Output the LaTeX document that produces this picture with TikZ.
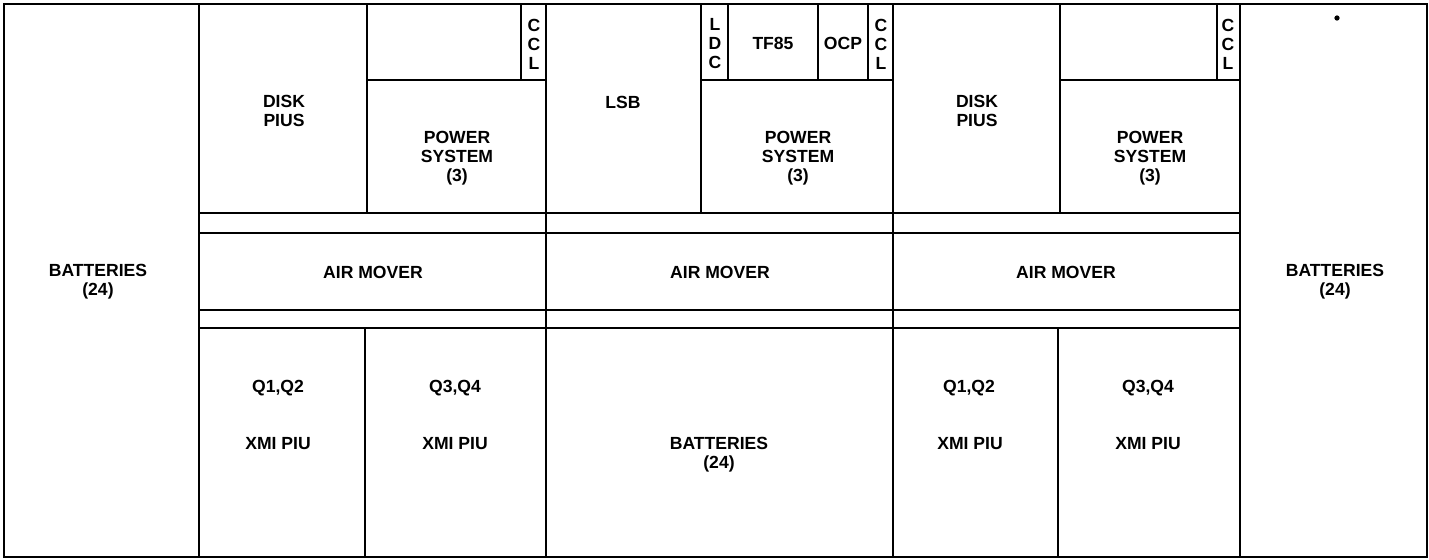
\documentclass[tikz,border=0pt]{standalone}
\usepackage{fontspec}
\setmainfont{Liberation Sans}

\tikzset{
  wall/.style={line width=1.4pt},
  part/.style={line width=1pt},
  lbl/.style={font=\bfseries\fontsize{10}{10.8}\selectfont,align=center,inner sep=0pt},
}

\begin{document}
\begin{tikzpicture}[x=0.02cm,y=-0.02cm,line cap=rect]
\useasboundingbox (0,0) rectangle (1429,559);
% frame, cabinet walls and air mover strips
\draw[wall] (4,4) rectangle (1427,557);
\foreach \x in {199,546,893,1240} \draw[wall] (\x,4)--(\x,557);
\foreach \y in {213,233,310,328} \draw[wall] (199,\y)--(1240,\y);
% upper boxes
\draw[part] (367,4)--(367,213) (367,80)--(546,80) (521,4)--(521,80);
\draw[part] (701,4)--(701,213) (701,80)--(893,80);
\foreach \x in {728,818,868} \draw[part] (\x,4)--(\x,80);
\draw[part] (1060,4)--(1060,213) (1060,80)--(1240,80) (1217,4)--(1217,80);
% lower boxes
\draw[part] (365,328)--(365,557) (1058,328)--(1058,557);
\fill (1337,18) circle (1.5pt);
% labels
\node[lbl] (batl) at (98,282) {BATTERIES\\(24)};
\node[lbl] (batr) at (1335,282) {BATTERIES\\(24)};
\node[lbl] (batm) at (719,455) {BATTERIES\\(24)};
\node[lbl] (diska) at (284,111) {DISK\\PIUS};
\node[lbl] (diskc) at (977,111) {DISK\\PIUS};
\node[lbl] (lsb) at (623,102) {LSB};
\node[lbl] (pwra) at (457,158) {POWER\\SYSTEM\\(3)};
\node[lbl] (pwrb) at (798,158) {POWER\\SYSTEM\\(3)};
\node[lbl] (pwrc) at (1150,158) {POWER\\SYSTEM\\(3)};
\node[lbl] (ccla) at (534,44) {C\\C\\L};
\node[lbl] (cclb) at (881,44) {C\\C\\L};
\node[lbl] (cclc) at (1228,44) {C\\C\\L};
\node[lbl] (ldc) at (715,44) {L\\D\\C};
\node[lbl] (tf) at (773,43) {TF85};
\node[lbl] (ocp) at (843,43) {OCP};
\node[lbl] (aira) at (373,272) {AIR MOVER};
\node[lbl] (airb) at (720,272) {AIR MOVER};
\node[lbl] (airc) at (1066,272) {AIR MOVER};
\node[lbl] (qa) at (278,388) {Q1,Q2};
\node[lbl] (xa) at (278,444) {XMI PIU};
\node[lbl] (qb) at (455,388) {Q3,Q4};
\node[lbl] (xb) at (455,444) {XMI PIU};
\node[lbl] (qc) at (969,388) {Q1,Q2};
\node[lbl] (xc) at (970,444) {XMI PIU};
\node[lbl] (qd) at (1148,388) {Q3,Q4};
\node[lbl] (xd) at (1148,444) {XMI PIU};
\end{tikzpicture}
\end{document}
